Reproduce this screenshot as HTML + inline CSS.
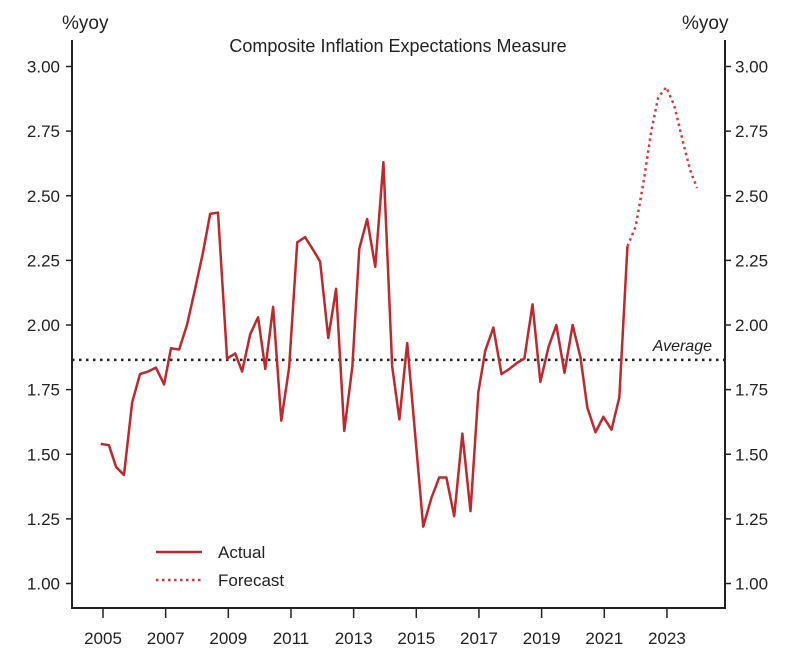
<!DOCTYPE html>
<html><head><meta charset="utf-8"><style>
body{margin:0;background:#fff;}
svg text{font-family:"Liberation Sans",sans-serif;fill:#222;}
</style></head><body>
<svg id="chart" width="796" height="653" xmlns="http://www.w3.org/2000/svg">
<rect width="796" height="653" fill="#fff"/>
<g id="g"></g>
</svg>
<script>
const actualDates=[2004.93,2005.19,2005.42,2005.67,2005.93,2006.18,2006.44,2006.69,2006.95,2007.17,2007.43,2007.68,2007.94,2008.19,2008.42,2008.67,2008.96,2009.22,2009.44,2009.70,2009.95,2010.18,2010.43,2010.69,2010.94,2011.20,2011.45,2011.71,2011.93,2012.19,2012.44,2012.70,2012.96,2013.18,2013.43,2013.69,2013.95,2014.23,2014.46,2014.71,2015.22,2015.48,2015.73,2015.96,2016.21,2016.47,2016.73,2016.98,2017.20,2017.46,2017.72,2017.97,2018.23,2018.45,2018.71,2018.96,2019.22,2019.47,2019.73,2019.99,2020.24,2020.46,2020.72,2020.97,2021.23,2021.48,2021.74];
const actualValues=[1.54,1.535,1.45,1.42,1.70,1.81,1.82,1.835,1.77,1.91,1.905,2.00,2.14,2.28,2.43,2.435,1.87,1.89,1.82,1.965,2.03,1.83,2.07,1.63,1.835,2.32,2.34,2.29,2.245,1.95,2.14,1.59,1.84,2.295,2.41,2.225,2.63,1.84,1.635,1.93,1.22,1.33,1.41,1.41,1.26,1.58,1.28,1.74,1.90,1.99,1.81,1.83,1.855,1.87,2.08,1.78,1.915,2.00,1.815,2.00,1.875,1.68,1.585,1.645,1.595,1.72,2.305];
const forecastDates=[2021.74,2022.0,2022.25,2022.5,2022.72,2022.98,2023.23,2023.49,2023.74,2023.96];
const forecastValues=[2.305,2.38,2.55,2.75,2.88,2.92,2.85,2.72,2.60,2.53];
const averageValue=[1.865];
const yTicks=[1.00,1.25,1.50,1.75,2.00,2.25,2.50,2.75,3.00];
const xTicks=[2005,2007,2009,2011,2013,2015,2017,2019,2021,2023];

const NS="http://www.w3.org/2000/svg";
const g=document.getElementById('g');
const X=y=>103+(y-2005)*31.33;
const Y=v=>325-(v-2)*258.5;
function el(t,a,txt){const e=document.createElementNS(NS,t);for(const k in a)e.setAttribute(k,a[k]);if(txt!==undefined)e.textContent=txt;g.appendChild(e);return e;}
const L=72,R=725,T=40,B=608;
let e;
e=el('line',{x1:L,y1:T,x2:L,y2:B,stroke:'#222','stroke-width':2});


e=el('line',{x1:R,y1:T,x2:R,y2:B,stroke:'#222','stroke-width':2});


e=el('line',{x1:L-1,y1:B,x2:R+1,y2:B,stroke:'#222','stroke-width':2});


yTicks.forEach(v=>{
  const y=Y(v);
  el('line',{x1:L-6,y1:y,x2:L,y2:y,stroke:'#222','stroke-width':1.5});
  el('line',{x1:R,y1:y,x2:R+6,y2:y,stroke:'#222','stroke-width':1.5});
  e=el('text',{x:L-12,y:y+6,'text-anchor':'end','font-size':17},v.toFixed(2));
  
  
  e=el('text',{x:R+10,y:y+6,'font-size':17},v.toFixed(2));
  
  
});
xTicks.forEach(yr=>{
  const x=X(yr);
  el('line',{x1:x,y1:B,x2:x,y2:B+10,stroke:'#222','stroke-width':1.5});
  e=el('text',{x:x,y:644,'text-anchor':'middle','font-size':17},String(yr));
  
  
});
e=el('text',{x:62,y:29,'font-size':19},'%yoy');


e=el('text',{x:682,y:29,'font-size':19},'%yoy');


e=el('text',{x:398,y:52,'text-anchor':'middle','font-size':18},'Composite Inflation Expectations Measure');


e=el('line',{x1:L,y1:Y(averageValue[0]),x2:R,y2:Y(averageValue[0]),stroke:'#222','stroke-width':2.5,'stroke-dasharray':'2.5 4.5'});


e=el('text',{x:712,y:351,'text-anchor':'end','font-size':16,'font-style':'italic'},'Average');


e=el('polyline',{points:actualDates.map((d,i)=>X(d)+','+Y(actualValues[i])).join(' '),fill:'none',stroke:'#c0282d','stroke-width':2.5,'stroke-linejoin':'round'});


e=el('polyline',{points:forecastDates.map((d,i)=>X(d)+','+Y(forecastValues[i])).join(' '),fill:'none',stroke:'#d8383c','stroke-width':2.5,'stroke-dasharray':'2.5 3.5'});


e=el('line',{x1:156,y1:552,x2:202,y2:552,stroke:'#c0282d','stroke-width':2.5});


e=el('text',{x:218,y:558,'font-size':17},'Actual');


e=el('line',{x1:156,y1:580,x2:202,y2:580,stroke:'#d8383c','stroke-width':2.5,'stroke-dasharray':'2.5 3.5'});


e=el('text',{x:218,y:586,'font-size':17},'Forecast');


</script>
</body></html>
